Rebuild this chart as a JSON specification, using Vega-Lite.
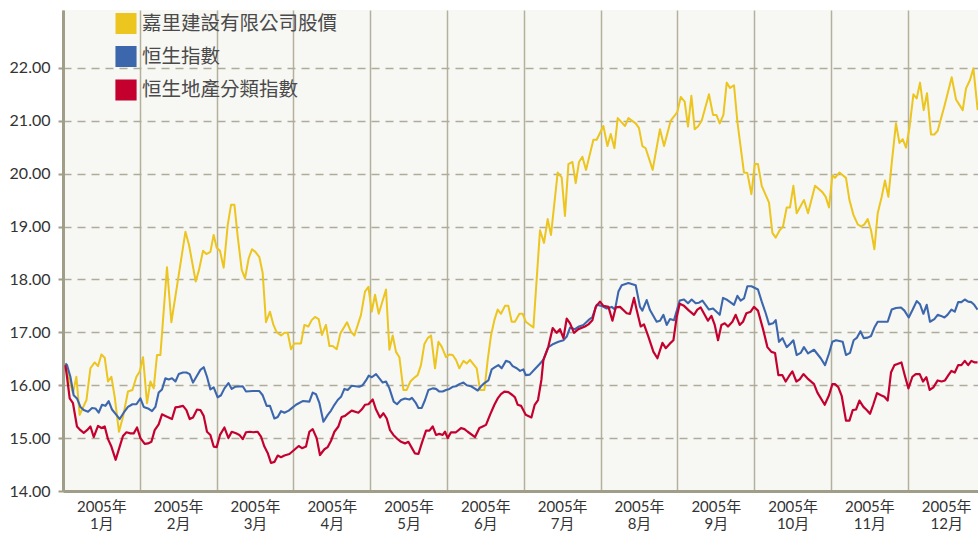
{
  "$schema": "https://vega.github.io/schema/vega-lite/v6.json",
  "width": 915,
  "height": 481,
  "autosize": {"type": "none"},
  "padding": {"left": 63, "top": 10, "right": 0, "bottom": 44},
  "background": "#ffffff",
  "view": {"fill": "#f7f7f4", "stroke": null},
  "config": {
    "font": "Lato, 'Noto Sans CJK TC'",
    "legend": {
      "orient": "none", "legendX": 52, "legendY": 3, "title": null,
      "symbolType": "square", "symbolSize": 361, "symbolStrokeWidth": 0,
      "labelFontSize": 19.5, "labelFont": "Noto Sans CJK TC", "labelColor": "#4a4a4a",
      "rowPadding": 5.5, "labelOffset": 5, "labelLimit": 400
    }
  },
  "data": {"values": [
    {"s":"嘉里建設有限公司股價","m":0.031,"v":16.38},{"s":"嘉里建設有限公司股價","m":0.130,"v":15.85},{"s":"嘉里建設有限公司股價","m":0.174,"v":16.16},{"s":"嘉里建設有限公司股價","m":0.217,"v":15.44},{"s":"嘉里建設有限公司股價","m":0.305,"v":15.72},{"s":"嘉里建設有限公司股價","m":0.357,"v":16.32},{"s":"嘉里建設有限公司股價","m":0.413,"v":16.43},{"s":"嘉里建設有限公司股價","m":0.456,"v":16.36},{"s":"嘉里建設有限公司股價","m":0.500,"v":16.58},{"s":"嘉里建設有限公司股價","m":0.543,"v":16.52},{"s":"嘉里建設有限公司股價","m":0.586,"v":16.07},{"s":"嘉里建設有限公司股價","m":0.630,"v":16.16},{"s":"嘉里建設有限公司股價","m":0.673,"v":15.78},{"s":"嘉里建設有限公司股價","m":0.729,"v":15.12},{"s":"嘉里建設有限公司股價","m":0.781,"v":15.40},{"s":"嘉里建設有限公司股價","m":0.846,"v":15.88},{"s":"嘉里建設有限公司股價","m":0.904,"v":15.91},{"s":"嘉里建設有限公司股價","m":0.956,"v":16.16},{"s":"嘉里建設有限公司股價","m":0.999,"v":16.26},{"s":"嘉里建設有限公司股價","m":1.042,"v":16.53},{"s":"嘉里建設有限公司股價","m":1.094,"v":15.66},{"s":"嘉里建設有限公司股價","m":1.138,"v":16.07},{"s":"嘉里建設有限公司股價","m":1.181,"v":15.94},{"s":"嘉里建設有限公司股價","m":1.224,"v":16.57},{"s":"嘉里建設有限公司股價","m":1.268,"v":16.57},{"s":"嘉里建設有限公司股價","m":1.354,"v":18.23},{"s":"嘉里建設有限公司股價","m":1.411,"v":17.19},{"s":"嘉里建設有限公司股價","m":1.497,"v":17.99},{"s":"嘉里建設有限公司股價","m":1.594,"v":18.90},{"s":"嘉里建設有限公司股價","m":1.641,"v":18.65},{"s":"嘉里建設有限公司股價","m":1.728,"v":17.96},{"s":"嘉里建設有限公司股價","m":1.771,"v":18.18},{"s":"嘉里建設有限公司股價","m":1.823,"v":18.54},{"s":"嘉里建設有限公司股價","m":1.867,"v":18.48},{"s":"嘉里建設有限公司股價","m":1.919,"v":18.52},{"s":"嘉里建設有限公司股價","m":1.962,"v":18.84},{"s":"嘉里建設有限公司股價","m":2.001,"v":18.60},{"s":"嘉里建設有限公司股價","m":2.044,"v":18.54},{"s":"嘉里建設有限公司股價","m":2.092,"v":18.22},{"s":"嘉里建設有限公司股價","m":2.145,"v":19.03},{"s":"嘉里建設有限公司股價","m":2.188,"v":19.41},{"s":"嘉里建設有限公司股價","m":2.232,"v":19.41},{"s":"嘉里建設有限公司股價","m":2.275,"v":18.81},{"s":"嘉里建設有限公司股價","m":2.327,"v":18.18},{"s":"嘉里建設有限公司股價","m":2.370,"v":18.02},{"s":"嘉里建設有限公司股價","m":2.418,"v":18.40},{"s":"嘉里建設有限公司股價","m":2.461,"v":18.57},{"s":"嘉里建設有限公司股價","m":2.505,"v":18.52},{"s":"嘉里建設有限公司股價","m":2.557,"v":18.42},{"s":"嘉里建設有限公司股價","m":2.600,"v":18.12},{"s":"嘉里建設有限公司股價","m":2.643,"v":17.19},{"s":"嘉里建設有限公司股價","m":2.695,"v":17.39},{"s":"嘉里建設有限公司股價","m":2.740,"v":17.14},{"s":"嘉里建設有限公司股價","m":2.783,"v":17.00},{"s":"嘉里建設有限公司股價","m":2.839,"v":16.94},{"s":"嘉里建設有限公司股價","m":2.883,"v":16.99},{"s":"嘉里建設有限公司股價","m":2.926,"v":16.99},{"s":"嘉里建設有限公司股價","m":2.969,"v":16.68},{"s":"嘉里建設有限公司股價","m":3.013,"v":16.79},{"s":"嘉里建設有限公司股價","m":3.099,"v":16.79},{"s":"嘉里建設有限公司股價","m":3.143,"v":17.14},{"s":"嘉里建設有限公司股價","m":3.195,"v":17.11},{"s":"嘉里建設有限公司股價","m":3.238,"v":17.23},{"s":"嘉里建設有限公司股價","m":3.281,"v":17.29},{"s":"嘉里建設有限公司股價","m":3.329,"v":17.25},{"s":"嘉里建設有限公司股價","m":3.372,"v":16.95},{"s":"嘉里建設有限公司股價","m":3.424,"v":17.14},{"s":"嘉里建設有限公司股價","m":3.469,"v":16.74},{"s":"嘉里建設有限公司股價","m":3.512,"v":16.74},{"s":"嘉里建設有限公司股價","m":3.564,"v":16.68},{"s":"嘉里建設有限公司股價","m":3.612,"v":16.98},{"s":"嘉里建設有限公司股價","m":3.698,"v":17.19},{"s":"嘉里建設有限公司股價","m":3.750,"v":17.01},{"s":"嘉里建設有限公司股價","m":3.794,"v":16.94},{"s":"嘉里建設有限公司股價","m":3.880,"v":17.33},{"s":"嘉里建設有限公司股價","m":3.932,"v":17.77},{"s":"嘉里建設有限公司股價","m":3.977,"v":17.86},{"s":"嘉里建設有限公司股價","m":4.020,"v":17.39},{"s":"嘉里建設有限公司股價","m":4.063,"v":17.71},{"s":"嘉里建設有限公司股價","m":4.111,"v":17.35},{"s":"嘉里建設有限公司股價","m":4.206,"v":17.81},{"s":"嘉里建設有限公司股價","m":4.250,"v":16.67},{"s":"嘉里建設有限公司股價","m":4.293,"v":16.94},{"s":"嘉里建設有限公司股價","m":4.336,"v":16.63},{"s":"嘉里建設有限公司股價","m":4.380,"v":16.53},{"s":"嘉里建設有限公司股價","m":4.432,"v":15.91},{"s":"嘉里建設有限公司股價","m":4.475,"v":15.91},{"s":"嘉里建設有限公司股價","m":4.523,"v":16.07},{"s":"嘉里建設有限公司股價","m":4.566,"v":16.13},{"s":"嘉里建設有限公司股價","m":4.618,"v":16.19},{"s":"嘉里建設有限公司股價","m":4.661,"v":16.38},{"s":"嘉里建設有限公司股價","m":4.706,"v":16.78},{"s":"嘉里建設有限公司股價","m":4.749,"v":16.89},{"s":"嘉里建設有限公司股價","m":4.792,"v":16.94},{"s":"嘉里建設有限公司股價","m":4.844,"v":16.32},{"s":"嘉里建設有限公司股價","m":4.888,"v":16.82},{"s":"嘉里建設有限公司股價","m":4.931,"v":16.73},{"s":"嘉里建設有限公司股價","m":4.987,"v":16.53},{"s":"嘉里建設有限公司股價","m":5.031,"v":16.58},{"s":"嘉里建設有限公司股價","m":5.074,"v":16.57},{"s":"嘉里建設有限公司股價","m":5.117,"v":16.48},{"s":"嘉里建設有限公司股價","m":5.161,"v":16.32},{"s":"嘉里建設有限公司股價","m":5.214,"v":16.46},{"s":"嘉里建設有限公司股價","m":5.257,"v":16.41},{"s":"嘉里建設有限公司股價","m":5.299,"v":16.48},{"s":"嘉里建設有限公司股價","m":5.387,"v":16.32},{"s":"嘉里建設有限公司股價","m":5.430,"v":15.91},{"s":"嘉里建設有限公司股價","m":5.487,"v":15.91},{"s":"嘉里建設有限公司股價","m":5.530,"v":16.48},{"s":"嘉里建設有限公司股價","m":5.573,"v":16.94},{"s":"嘉里建設有限公司股價","m":5.617,"v":17.23},{"s":"嘉里建設有限公司股價","m":5.660,"v":17.43},{"s":"嘉里建設有限公司股價","m":5.703,"v":17.35},{"s":"嘉里建設有限公司股價","m":5.755,"v":17.50},{"s":"嘉里建設有限公司股價","m":5.799,"v":17.50},{"s":"嘉里建設有限公司股價","m":5.842,"v":17.20},{"s":"嘉里建設有限公司股價","m":5.885,"v":17.20},{"s":"嘉里建設有限公司股價","m":5.943,"v":17.35},{"s":"嘉里建設有限公司股價","m":5.986,"v":17.35},{"s":"嘉里建設有限公司股價","m":6.025,"v":17.20},{"s":"嘉里建設有限公司股價","m":6.125,"v":17.09},{"s":"嘉里建設有限公司股價","m":6.211,"v":18.93},{"s":"嘉里建設有限公司股價","m":6.263,"v":18.69},{"s":"嘉里建設有限公司股價","m":6.311,"v":19.14},{"s":"嘉里建設有限公司股價","m":6.354,"v":18.84},{"s":"嘉里建設有限公司股價","m":6.441,"v":20.02},{"s":"嘉里建設有限公司股價","m":6.493,"v":19.93},{"s":"嘉里建設有限公司股價","m":6.536,"v":19.20},{"s":"嘉里建設有限公司股價","m":6.581,"v":20.18},{"s":"嘉里建設有限公司股價","m":6.633,"v":20.22},{"s":"嘉里建設有限公司股價","m":6.676,"v":19.82},{"s":"嘉里建設有限公司股價","m":6.719,"v":20.22},{"s":"嘉里建設有限公司股價","m":6.763,"v":20.32},{"s":"嘉里建設有限公司股價","m":6.810,"v":20.07},{"s":"嘉里建設有限公司股價","m":6.906,"v":20.64},{"s":"嘉里建設有限公司股價","m":6.949,"v":20.64},{"s":"嘉里建設有限公司股價","m":7.036,"v":20.90},{"s":"嘉里建設有限公司股價","m":7.089,"v":20.52},{"s":"嘉里建設有限公司股價","m":7.132,"v":20.75},{"s":"嘉里建設有限公司股價","m":7.180,"v":20.48},{"s":"嘉里建設有限公司股價","m":7.223,"v":21.05},{"s":"嘉里建設有限公司股價","m":7.318,"v":20.90},{"s":"嘉里建設有限公司股價","m":7.362,"v":21.05},{"s":"嘉里建設有限公司股價","m":7.457,"v":20.95},{"s":"嘉里建設有限公司股價","m":7.500,"v":20.86},{"s":"嘉里建設有限公司股價","m":7.544,"v":20.52},{"s":"嘉里建設有限公司股價","m":7.587,"v":20.48},{"s":"嘉里建設有限公司股價","m":7.678,"v":20.07},{"s":"嘉里建設有限公司股價","m":7.773,"v":20.84},{"s":"嘉里建設有限公司股價","m":7.826,"v":20.52},{"s":"嘉里建設有限公司股價","m":7.913,"v":21.00},{"s":"嘉里建設有限公司股價","m":7.961,"v":21.09},{"s":"嘉里建設有限公司股價","m":8.000,"v":21.17},{"s":"嘉里建設有限公司股價","m":8.043,"v":21.45},{"s":"嘉里建設有限公司股價","m":8.095,"v":21.36},{"s":"嘉里建設有限公司股價","m":8.138,"v":20.89},{"s":"嘉里建設有限公司股價","m":8.182,"v":21.47},{"s":"嘉里建設有限公司股價","m":8.225,"v":20.84},{"s":"嘉里建設有限公司股價","m":8.268,"v":20.89},{"s":"嘉里建設有限公司股價","m":8.316,"v":21.00},{"s":"嘉里建設有限公司股價","m":8.411,"v":21.50},{"s":"嘉里建設有限公司股價","m":8.464,"v":21.11},{"s":"嘉里建設有限公司股價","m":8.508,"v":21.11},{"s":"嘉里建設有限公司股價","m":8.551,"v":20.95},{"s":"嘉里建設有限公司股價","m":8.599,"v":21.11},{"s":"嘉里建設有限公司股價","m":8.642,"v":21.72},{"s":"嘉里建設有限公司股價","m":8.685,"v":21.62},{"s":"嘉里建設有限公司股價","m":8.737,"v":21.67},{"s":"嘉里建設有限公司股價","m":8.781,"v":20.98},{"s":"嘉里建設有限公司股價","m":8.867,"v":20.02},{"s":"嘉里建設有限公司股價","m":8.911,"v":20.01},{"s":"嘉里建設有限公司股價","m":8.964,"v":19.61},{"s":"嘉里建設有限公司股價","m":9.007,"v":20.18},{"s":"嘉里建設有限公司股價","m":9.049,"v":20.18},{"s":"嘉里建設有限公司股價","m":9.098,"v":19.77},{"s":"嘉里建設有限公司股價","m":9.193,"v":19.45},{"s":"嘉里建設有限公司股價","m":9.237,"v":18.88},{"s":"嘉里建設有限公司股價","m":9.280,"v":18.79},{"s":"嘉里建設有限公司股價","m":9.332,"v":18.93},{"s":"嘉里建設有限公司股價","m":9.375,"v":19.00},{"s":"嘉里建設有限公司股價","m":9.423,"v":19.36},{"s":"嘉里建設有限公司股價","m":9.466,"v":19.36},{"s":"嘉里建設有限公司股價","m":9.510,"v":19.77},{"s":"嘉里建設有限公司股價","m":9.553,"v":19.25},{"s":"嘉里建設有限公司股價","m":9.648,"v":19.50},{"s":"嘉里建設有限公司股價","m":9.701,"v":19.25},{"s":"嘉里建設有限公司股價","m":9.792,"v":19.77},{"s":"嘉里建設有限公司股價","m":9.888,"v":19.65},{"s":"嘉里建設有限公司股價","m":9.931,"v":19.56},{"s":"嘉里建設有限公司股價","m":9.974,"v":19.36},{"s":"嘉里建設有限公司股價","m":10.018,"v":19.97},{"s":"嘉里建設有限公司股價","m":10.052,"v":19.92},{"s":"嘉里建設有限公司股價","m":10.109,"v":20.02},{"s":"嘉里建設有限公司股價","m":10.195,"v":19.92},{"s":"嘉里建設有限公司股價","m":10.240,"v":19.50},{"s":"嘉里建設有限公司股價","m":10.292,"v":19.22},{"s":"嘉里建設有限公司股價","m":10.348,"v":19.04},{"s":"嘉里建設有限公司股價","m":10.391,"v":19.00},{"s":"嘉里建設有限公司股價","m":10.435,"v":19.04},{"s":"嘉里建設有限公司股價","m":10.478,"v":19.14},{"s":"嘉里建設有限公司股價","m":10.521,"v":18.93},{"s":"嘉里建設有限公司股價","m":10.565,"v":18.57},{"s":"嘉里建設有限公司股價","m":10.608,"v":19.25},{"s":"嘉里建設有限公司股價","m":10.660,"v":19.56},{"s":"嘉里建設有限公司股價","m":10.703,"v":19.87},{"s":"嘉里建設有限公司股價","m":10.747,"v":19.56},{"s":"嘉里建設有限公司股價","m":10.790,"v":20.19},{"s":"嘉里建設有限公司股價","m":10.846,"v":20.95},{"s":"嘉里建設有限公司股價","m":10.891,"v":20.58},{"s":"嘉里建設有限公司股價","m":10.934,"v":20.65},{"s":"嘉里建設有限公司股價","m":10.977,"v":20.49},{"s":"嘉里建設有限公司股價","m":11.021,"v":20.86},{"s":"嘉里建設有限公司股價","m":11.073,"v":21.50},{"s":"嘉里建設有限公司股價","m":11.116,"v":21.42},{"s":"嘉里建設有限公司股價","m":11.159,"v":21.72},{"s":"嘉里建設有限公司股價","m":11.207,"v":21.20},{"s":"嘉里建設有限公司股價","m":11.250,"v":21.52},{"s":"嘉里建設有限公司股價","m":11.302,"v":20.74},{"s":"嘉里建設有限公司股價","m":11.346,"v":20.74},{"s":"嘉里建設有限公司股價","m":11.389,"v":20.81},{"s":"嘉里建設有限公司股價","m":11.477,"v":21.28},{"s":"嘉里建設有限公司股價","m":11.572,"v":21.82},{"s":"嘉里建設有限公司股價","m":11.628,"v":21.40},{"s":"嘉里建設有限公司股價","m":11.672,"v":21.30},{"s":"嘉里建設有限公司股價","m":11.715,"v":21.20},{"s":"嘉里建設有限公司股價","m":11.758,"v":21.61},{"s":"嘉里建設有限公司股價","m":11.810,"v":21.77},{"s":"嘉里建設有限公司股價","m":11.854,"v":21.99},{"s":"嘉里建設有限公司股價","m":11.910,"v":21.20},

    {"s":"恒生指數","m":0.031,"v":16.41},{"s":"恒生指數","m":0.052,"v":16.38},{"s":"恒生指數","m":0.096,"v":16.16},{"s":"恒生指數","m":0.139,"v":15.81},{"s":"恒生指數","m":0.182,"v":15.75},{"s":"恒生指數","m":0.227,"v":15.59},{"s":"恒生指數","m":0.270,"v":15.53},{"s":"恒生指數","m":0.326,"v":15.50},{"s":"恒生指數","m":0.378,"v":15.57},{"s":"恒生指數","m":0.422,"v":15.56},{"s":"恒生指數","m":0.465,"v":15.48},{"s":"恒生指數","m":0.508,"v":15.63},{"s":"恒生指數","m":0.552,"v":15.61},{"s":"恒生指數","m":0.595,"v":15.70},{"s":"恒生指數","m":0.638,"v":15.54},{"s":"恒生指數","m":0.695,"v":15.44},{"s":"恒生指數","m":0.738,"v":15.36},{"s":"恒生指數","m":0.790,"v":15.48},{"s":"恒生指數","m":0.846,"v":15.59},{"s":"恒生指數","m":0.904,"v":15.64},{"s":"恒生指數","m":0.956,"v":15.64},{"s":"恒生指數","m":1.008,"v":15.75},{"s":"恒生指數","m":1.051,"v":15.59},{"s":"恒生指數","m":1.107,"v":15.56},{"s":"恒生指數","m":1.159,"v":15.51},{"s":"恒生指數","m":1.203,"v":15.59},{"s":"恒生指數","m":1.246,"v":15.86},{"s":"恒生指數","m":1.289,"v":15.92},{"s":"恒生指數","m":1.333,"v":16.13},{"s":"恒生指數","m":1.376,"v":16.11},{"s":"恒生指數","m":1.419,"v":16.13},{"s":"恒生指數","m":1.464,"v":16.07},{"s":"恒生指數","m":1.507,"v":16.21},{"s":"恒生指數","m":1.563,"v":16.24},{"s":"恒生指數","m":1.607,"v":16.24},{"s":"恒生指數","m":1.650,"v":16.21},{"s":"恒生指數","m":1.693,"v":16.05},{"s":"恒生指數","m":1.737,"v":16.16},{"s":"恒生指數","m":1.789,"v":16.29},{"s":"恒生指數","m":1.832,"v":16.34},{"s":"恒生指數","m":1.875,"v":16.16},{"s":"恒生指數","m":1.919,"v":15.92},{"s":"恒生指數","m":1.962,"v":15.96},{"s":"恒生指數","m":2.014,"v":15.77},{"s":"恒生指數","m":2.057,"v":15.81},{"s":"恒生指數","m":2.102,"v":15.94},{"s":"恒生指數","m":2.154,"v":16.04},{"s":"恒生指數","m":2.197,"v":15.93},{"s":"恒生指數","m":2.240,"v":15.97},{"s":"恒生指數","m":2.340,"v":15.98},{"s":"恒生指數","m":2.383,"v":15.88},{"s":"恒生指數","m":2.470,"v":15.89},{"s":"恒生指數","m":2.557,"v":15.89},{"s":"恒生指數","m":2.600,"v":15.81},{"s":"恒生指數","m":2.652,"v":15.61},{"s":"恒生指數","m":2.695,"v":15.61},{"s":"恒生指數","m":2.753,"v":15.37},{"s":"恒生指數","m":2.796,"v":15.40},{"s":"恒生指數","m":2.839,"v":15.51},{"s":"恒生指數","m":2.883,"v":15.48},{"s":"恒生指數","m":2.939,"v":15.52},{"s":"恒生指數","m":2.991,"v":15.58},{"s":"恒生指數","m":3.034,"v":15.63},{"s":"恒生指數","m":3.121,"v":15.70},{"s":"恒生指數","m":3.208,"v":15.69},{"s":"恒生指數","m":3.251,"v":15.86},{"s":"恒生指數","m":3.294,"v":15.83},{"s":"恒生指數","m":3.339,"v":15.66},{"s":"恒生指數","m":3.391,"v":15.31},{"s":"恒生指數","m":3.447,"v":15.44},{"s":"恒生指數","m":3.490,"v":15.52},{"s":"恒生指數","m":3.534,"v":15.63},{"s":"恒生指數","m":3.577,"v":15.72},{"s":"恒生指數","m":3.620,"v":15.78},{"s":"恒生指數","m":3.664,"v":15.93},{"s":"恒生指數","m":3.707,"v":15.91},{"s":"恒生指數","m":3.759,"v":15.99},{"s":"恒生指數","m":3.859,"v":15.97},{"s":"恒生指數","m":3.902,"v":16.00},{"s":"恒生指數","m":3.945,"v":16.09},{"s":"恒生指數","m":3.980,"v":16.18},{"s":"恒生指數","m":4.020,"v":16.15},{"s":"恒生指數","m":4.076,"v":16.21},{"s":"恒生指數","m":4.163,"v":16.05},{"s":"恒生指數","m":4.206,"v":16.07},{"s":"恒生指數","m":4.250,"v":15.94},{"s":"恒生指數","m":4.306,"v":15.69},{"s":"恒生指數","m":4.349,"v":15.64},{"s":"恒生指數","m":4.401,"v":15.72},{"s":"恒生指數","m":4.453,"v":15.75},{"s":"恒生指數","m":4.510,"v":15.73},{"s":"恒生指數","m":4.544,"v":15.76},{"s":"恒生指數","m":4.596,"v":15.66},{"s":"恒生指數","m":4.628,"v":15.57},{"s":"恒生指數","m":4.671,"v":15.57},{"s":"恒生指數","m":4.714,"v":15.72},{"s":"恒生指數","m":4.758,"v":15.91},{"s":"恒生指數","m":4.814,"v":15.94},{"s":"恒生指數","m":4.857,"v":15.93},{"s":"恒生指數","m":4.901,"v":15.88},{"s":"恒生指數","m":4.944,"v":15.88},{"s":"恒生指數","m":4.987,"v":15.91},{"s":"恒生指數","m":5.031,"v":15.93},{"s":"恒生指數","m":5.074,"v":15.97},{"s":"恒生指數","m":5.117,"v":15.98},{"s":"恒生指數","m":5.161,"v":16.02},{"s":"恒生指數","m":5.214,"v":16.05},{"s":"恒生指數","m":5.257,"v":16.00},{"s":"恒生指數","m":5.313,"v":15.98},{"s":"恒生指數","m":5.357,"v":15.94},{"s":"恒生指數","m":5.400,"v":15.90},{"s":"恒生指數","m":5.443,"v":15.98},{"s":"恒生指數","m":5.487,"v":16.04},{"s":"恒生指數","m":5.539,"v":16.09},{"s":"恒生指數","m":5.582,"v":16.30},{"s":"恒生指數","m":5.625,"v":16.34},{"s":"恒生指數","m":5.669,"v":16.38},{"s":"恒生指數","m":5.712,"v":16.32},{"s":"恒生指數","m":5.768,"v":16.46},{"s":"恒生指數","m":5.813,"v":16.44},{"s":"恒生指數","m":5.855,"v":16.36},{"s":"恒生指數","m":5.908,"v":16.32},{"s":"恒生指數","m":5.951,"v":16.27},{"s":"恒生指數","m":5.995,"v":16.30},{"s":"恒生指數","m":6.025,"v":16.19},{"s":"恒生指數","m":6.077,"v":16.20},{"s":"恒生指數","m":6.142,"v":16.30},{"s":"恒生指數","m":6.207,"v":16.40},{"s":"恒生指數","m":6.255,"v":16.48},{"s":"恒生指數","m":6.320,"v":16.72},{"s":"恒生指數","m":6.385,"v":16.78},{"s":"恒生指數","m":6.451,"v":16.82},{"s":"恒生指數","m":6.516,"v":16.85},{"s":"恒生指數","m":6.559,"v":16.92},{"s":"恒生指數","m":6.602,"v":17.09},{"s":"恒生指數","m":6.667,"v":17.06},{"s":"恒生指數","m":6.719,"v":17.11},{"s":"恒生指數","m":6.776,"v":17.14},{"s":"恒生指數","m":6.841,"v":17.23},{"s":"恒生指數","m":6.893,"v":17.29},{"s":"恒生指數","m":6.949,"v":17.52},{"s":"恒生指數","m":7.014,"v":17.50},{"s":"恒生指數","m":7.079,"v":17.45},{"s":"恒生指數","m":7.145,"v":17.48},{"s":"恒生指數","m":7.188,"v":17.43},{"s":"恒生指數","m":7.232,"v":17.77},{"s":"恒生指數","m":7.275,"v":17.89},{"s":"恒生指數","m":7.362,"v":17.93},{"s":"恒生指數","m":7.457,"v":17.89},{"s":"恒生指數","m":7.513,"v":17.48},{"s":"恒生指數","m":7.544,"v":17.41},{"s":"恒生指數","m":7.600,"v":17.61},{"s":"恒生指數","m":7.643,"v":17.42},{"s":"恒生指數","m":7.730,"v":17.20},{"s":"恒生指數","m":7.773,"v":17.22},{"s":"恒生指數","m":7.818,"v":17.33},{"s":"恒生指數","m":7.861,"v":17.14},{"s":"恒生指數","m":7.904,"v":17.25},{"s":"恒生指數","m":7.956,"v":17.23},{"s":"恒生指數","m":8.000,"v":17.45},{"s":"恒生指數","m":8.030,"v":17.60},{"s":"恒生指數","m":8.086,"v":17.62},{"s":"恒生指數","m":8.138,"v":17.55},{"s":"恒生指數","m":8.186,"v":17.62},{"s":"恒生指數","m":8.238,"v":17.55},{"s":"恒生指數","m":8.281,"v":17.56},{"s":"恒生指數","m":8.326,"v":17.60},{"s":"恒生指數","m":8.411,"v":17.43},{"s":"恒生指數","m":8.464,"v":17.45},{"s":"恒生指數","m":8.551,"v":17.33},{"s":"恒生指數","m":8.594,"v":17.65},{"s":"恒生指數","m":8.651,"v":17.61},{"s":"恒生指數","m":8.737,"v":17.52},{"s":"恒生指數","m":8.781,"v":17.69},{"s":"恒生指數","m":8.824,"v":17.60},{"s":"恒生指數","m":8.867,"v":17.64},{"s":"恒生指數","m":8.911,"v":17.87},{"s":"恒生指數","m":8.964,"v":17.87},{"s":"恒生指數","m":9.049,"v":17.81},{"s":"恒生指數","m":9.098,"v":17.58},{"s":"恒生指數","m":9.150,"v":17.36},{"s":"恒生指數","m":9.193,"v":17.15},{"s":"恒生指數","m":9.245,"v":17.17},{"s":"恒生指數","m":9.280,"v":17.23},{"s":"恒生指數","m":9.323,"v":16.82},{"s":"恒生指數","m":9.368,"v":16.89},{"s":"恒生指數","m":9.423,"v":16.72},{"s":"恒生指數","m":9.466,"v":16.78},{"s":"恒生指數","m":9.510,"v":16.85},{"s":"恒生指數","m":9.553,"v":16.57},{"s":"恒生指數","m":9.605,"v":16.61},{"s":"恒生指數","m":9.648,"v":16.72},{"s":"恒生指數","m":9.701,"v":16.60},{"s":"恒生指數","m":9.779,"v":16.67},{"s":"恒生指數","m":9.866,"v":16.51},{"s":"恒生指數","m":9.922,"v":16.38},{"s":"恒生指數","m":9.974,"v":16.60},{"s":"恒生指數","m":10.018,"v":16.82},{"s":"恒生指數","m":10.065,"v":16.85},{"s":"恒生指數","m":10.152,"v":16.82},{"s":"恒生指數","m":10.195,"v":16.57},{"s":"恒生指數","m":10.247,"v":16.61},{"s":"恒生指數","m":10.295,"v":16.85},{"s":"恒生指數","m":10.339,"v":16.90},{"s":"恒生指數","m":10.383,"v":17.02},{"s":"恒生指數","m":10.426,"v":16.89},{"s":"恒生指數","m":10.478,"v":16.90},{"s":"恒生指數","m":10.521,"v":16.93},{"s":"恒生指數","m":10.565,"v":17.09},{"s":"恒生指數","m":10.608,"v":17.20},{"s":"恒生指數","m":10.738,"v":17.20},{"s":"恒生指數","m":10.790,"v":17.43},{"s":"恒生指數","m":10.846,"v":17.46},{"s":"恒生指數","m":10.911,"v":17.47},{"s":"恒生指數","m":10.956,"v":17.41},{"s":"恒生指數","m":11.012,"v":17.28},{"s":"恒生指數","m":11.064,"v":17.43},{"s":"恒生指數","m":11.116,"v":17.59},{"s":"恒生指數","m":11.159,"v":17.53},{"s":"恒生指數","m":11.203,"v":17.35},{"s":"恒生指數","m":11.246,"v":17.52},{"s":"恒生指數","m":11.289,"v":17.20},{"s":"恒生指數","m":11.346,"v":17.25},{"s":"恒生指數","m":11.389,"v":17.33},{"s":"恒生指數","m":11.432,"v":17.31},{"s":"恒生指數","m":11.477,"v":17.28},{"s":"恒生指數","m":11.516,"v":17.33},{"s":"恒生指數","m":11.568,"v":17.43},{"s":"恒生指數","m":11.612,"v":17.39},{"s":"恒生指數","m":11.656,"v":17.57},{"s":"恒生指數","m":11.698,"v":17.57},{"s":"恒生指數","m":11.742,"v":17.62},{"s":"恒生指數","m":11.786,"v":17.58},{"s":"恒生指數","m":11.828,"v":17.57},{"s":"恒生指數","m":11.865,"v":17.52},{"s":"恒生指數","m":11.908,"v":17.43},

    {"s":"恒生地產分類指數","m":0.031,"v":16.38},{"s":"恒生地產分類指數","m":0.052,"v":16.16},{"s":"恒生地產分類指數","m":0.087,"v":15.75},{"s":"恒生地產分類指數","m":0.130,"v":15.66},{"s":"恒生地產分類指數","m":0.182,"v":15.22},{"s":"恒生地產分類指數","m":0.227,"v":15.15},{"s":"恒生地產分類指數","m":0.270,"v":15.10},{"s":"恒生地產分類指數","m":0.313,"v":15.15},{"s":"恒生地產分類指數","m":0.357,"v":15.22},{"s":"恒生地產分類指數","m":0.400,"v":15.02},{"s":"恒生地產分類指數","m":0.456,"v":15.23},{"s":"恒生地產分類指數","m":0.500,"v":15.19},{"s":"恒生地產分類指數","m":0.543,"v":15.22},{"s":"恒生地產分類指數","m":0.586,"v":14.98},{"s":"恒生地產分類指數","m":0.630,"v":14.84},{"s":"恒生地產分類指數","m":0.686,"v":14.59},{"s":"恒生地產分類指數","m":0.738,"v":14.84},{"s":"恒生地產分類指數","m":0.781,"v":15.04},{"s":"恒生地產分類指數","m":0.826,"v":15.11},{"s":"恒生地產分類指數","m":0.878,"v":15.09},{"s":"恒生地產分類指數","m":0.921,"v":15.09},{"s":"恒生地產分類指數","m":0.964,"v":15.20},{"s":"恒生地產分類指數","m":1.008,"v":15.00},{"s":"恒生地產分類指數","m":1.064,"v":14.89},{"s":"恒生地產分類指數","m":1.107,"v":14.90},{"s":"恒生地產分類指數","m":1.151,"v":14.93},{"s":"恒生地產分類指數","m":1.194,"v":15.15},{"s":"恒生地產分類指數","m":1.246,"v":15.26},{"s":"恒生地產分類指數","m":1.289,"v":15.45},{"s":"恒生地產分類指數","m":1.333,"v":15.42},{"s":"恒生地產分類指數","m":1.419,"v":15.36},{"s":"恒生地產分類指數","m":1.464,"v":15.58},{"s":"恒生地產分類指數","m":1.507,"v":15.59},{"s":"恒生地產分類指數","m":1.563,"v":15.61},{"s":"恒生地產分類指數","m":1.607,"v":15.53},{"s":"恒生地產分類指數","m":1.650,"v":15.36},{"s":"恒生地產分類指數","m":1.693,"v":15.39},{"s":"恒生地產分類指數","m":1.745,"v":15.54},{"s":"恒生地產分類指數","m":1.789,"v":15.53},{"s":"恒生地產分類指數","m":1.832,"v":15.42},{"s":"恒生地產分類指數","m":1.875,"v":15.12},{"s":"恒生地產分類指數","m":1.919,"v":15.06},{"s":"恒生地產分類指數","m":1.962,"v":14.84},{"s":"恒生地產分類指數","m":2.001,"v":14.83},{"s":"恒生地產分類指數","m":2.044,"v":15.06},{"s":"恒生地產分類指數","m":2.102,"v":15.20},{"s":"恒生地產分類指數","m":2.154,"v":15.00},{"s":"恒生地產分類指數","m":2.197,"v":15.12},{"s":"恒生地產分類指數","m":2.253,"v":15.09},{"s":"恒生地產分類指數","m":2.297,"v":15.06},{"s":"恒生地產分類指數","m":2.340,"v":14.98},{"s":"恒生地產分類指數","m":2.383,"v":15.11},{"s":"恒生地產分類指數","m":2.435,"v":15.12},{"s":"恒生地產分類指數","m":2.479,"v":15.11},{"s":"恒生地產分類指數","m":2.535,"v":15.12},{"s":"恒生地產分類指數","m":2.578,"v":15.03},{"s":"恒生地產分類指數","m":2.622,"v":14.84},{"s":"恒生地產分類指數","m":2.665,"v":14.72},{"s":"恒生地產分類指數","m":2.708,"v":14.53},{"s":"恒生地產分類指數","m":2.753,"v":14.55},{"s":"恒生地產分類指數","m":2.796,"v":14.67},{"s":"恒生地產分類指數","m":2.839,"v":14.64},{"s":"恒生地產分類指數","m":2.883,"v":14.67},{"s":"恒生地產分類指數","m":2.948,"v":14.70},{"s":"恒生地產分類指數","m":3.013,"v":14.78},{"s":"恒生地產分類指數","m":3.069,"v":14.85},{"s":"恒生地產分類指數","m":3.112,"v":14.81},{"s":"恒生地產分類指數","m":3.164,"v":14.84},{"s":"恒生地產分類指數","m":3.208,"v":15.12},{"s":"恒生地產分類指數","m":3.251,"v":15.17},{"s":"恒生地產分類指數","m":3.303,"v":15.00},{"s":"恒生地產分類指數","m":3.346,"v":14.68},{"s":"恒生地產分類指數","m":3.404,"v":14.79},{"s":"恒生地產分類指數","m":3.447,"v":14.83},{"s":"恒生地產分類指數","m":3.490,"v":14.95},{"s":"恒生地產分類指數","m":3.534,"v":15.12},{"s":"恒生地產分類指數","m":3.586,"v":15.22},{"s":"恒生地產分類指數","m":3.629,"v":15.40},{"s":"恒生地產分類指數","m":3.672,"v":15.42},{"s":"恒生地產分類指數","m":3.716,"v":15.47},{"s":"恒生地產分類指數","m":3.759,"v":15.52},{"s":"恒生地產分類指數","m":3.846,"v":15.48},{"s":"恒生地產分類指數","m":3.889,"v":15.54},{"s":"恒生地產分類指數","m":3.932,"v":15.63},{"s":"恒生地產分類指數","m":3.977,"v":15.64},{"s":"恒生地產分類指數","m":4.033,"v":15.73},{"s":"恒生地產分類指數","m":4.076,"v":15.54},{"s":"恒生地產分類指數","m":4.128,"v":15.39},{"s":"恒生地產分類指數","m":4.172,"v":15.47},{"s":"恒生地產分類指數","m":4.215,"v":15.37},{"s":"恒生地產分類指數","m":4.258,"v":15.15},{"s":"恒生地產分類指數","m":4.302,"v":15.06},{"s":"恒生地產分類指數","m":4.358,"v":14.98},{"s":"恒生地產分類指數","m":4.401,"v":14.93},{"s":"恒生地產分類指數","m":4.453,"v":14.90},{"s":"恒生地產分類指數","m":4.497,"v":14.93},{"s":"恒生地產分類指數","m":4.540,"v":14.82},{"s":"恒生地產分類指數","m":4.583,"v":14.71},{"s":"恒生地產分類指數","m":4.628,"v":14.70},{"s":"恒生地產分類指數","m":4.671,"v":14.90},{"s":"恒生地產分類指數","m":4.727,"v":15.14},{"s":"恒生地產分類指數","m":4.771,"v":15.14},{"s":"恒生地產分類指數","m":4.814,"v":15.22},{"s":"恒生地產分類指數","m":4.857,"v":15.06},{"s":"恒生地產分類指數","m":4.901,"v":15.08},{"s":"恒生地產分類指數","m":4.944,"v":15.06},{"s":"恒生地產分類指數","m":4.974,"v":15.12},{"s":"恒生地產分類指數","m":5.009,"v":15.00},{"s":"恒生地產分類指數","m":5.052,"v":15.11},{"s":"恒生地產分類指數","m":5.117,"v":15.11},{"s":"恒生地產分類指數","m":5.182,"v":15.19},{"s":"恒生地產分類指數","m":5.227,"v":15.17},{"s":"恒生地產分類指數","m":5.270,"v":15.12},{"s":"恒生地產分類指數","m":5.365,"v":15.02},{"s":"恒生地產分類指數","m":5.422,"v":15.19},{"s":"恒生地產分類指數","m":5.465,"v":15.22},{"s":"恒生地產分類指數","m":5.508,"v":15.25},{"s":"恒生地產分類指數","m":5.560,"v":15.44},{"s":"恒生地產分類指數","m":5.617,"v":15.63},{"s":"恒生地產分類指數","m":5.660,"v":15.75},{"s":"恒生地產分類指數","m":5.703,"v":15.83},{"s":"恒生地產分類指數","m":5.747,"v":15.88},{"s":"恒生地產分類指數","m":5.799,"v":15.87},{"s":"恒生地產分類指數","m":5.855,"v":15.81},{"s":"恒生地產分類指數","m":5.885,"v":15.77},{"s":"恒生地產分類指數","m":5.921,"v":15.63},{"s":"恒生地產分類指數","m":5.964,"v":15.61},{"s":"恒生地產分類指數","m":6.025,"v":15.44},{"s":"恒生地產分類指數","m":6.099,"v":15.39},{"s":"恒生地產分類指數","m":6.142,"v":15.63},{"s":"恒生地產分類指數","m":6.185,"v":15.72},{"s":"恒生地產分類指數","m":6.229,"v":16.10},{"s":"恒生地產分類指數","m":6.255,"v":16.48},{"s":"恒生地產分類指數","m":6.320,"v":16.73},{"s":"恒生地產分類指數","m":6.376,"v":17.08},{"s":"恒生地產分類指數","m":6.428,"v":16.99},{"s":"恒生地產分類指數","m":6.471,"v":17.06},{"s":"恒生地產分類指數","m":6.516,"v":16.89},{"s":"恒生地產分類指數","m":6.559,"v":17.26},{"s":"恒生地產分類指數","m":6.602,"v":17.17},{"s":"恒生地產分類指數","m":6.654,"v":16.99},{"s":"恒生地產分類指數","m":6.711,"v":17.06},{"s":"恒生地產分類指數","m":6.797,"v":17.11},{"s":"恒生地產分類指數","m":6.841,"v":17.15},{"s":"恒生地產分類指數","m":6.893,"v":17.23},{"s":"恒生地產分類指數","m":6.936,"v":17.48},{"s":"恒生地產分類指數","m":6.992,"v":17.58},{"s":"恒生地產分類指數","m":7.036,"v":17.50},{"s":"恒生地產分類指數","m":7.102,"v":17.48},{"s":"恒生地產分類指數","m":7.154,"v":17.22},{"s":"恒生地產分類指數","m":7.197,"v":17.47},{"s":"恒生地產分類指數","m":7.253,"v":17.48},{"s":"恒生地產分類指數","m":7.340,"v":17.36},{"s":"恒生地產分類指數","m":7.383,"v":17.35},{"s":"恒生地產分類指數","m":7.435,"v":17.65},{"s":"恒生地產分類指數","m":7.470,"v":17.42},{"s":"恒生地產分類指數","m":7.522,"v":17.11},{"s":"恒生地產分類指數","m":7.565,"v":17.15},{"s":"恒生地產分類指數","m":7.622,"v":16.92},{"s":"恒生地產分類指數","m":7.688,"v":16.63},{"s":"恒生地產分類指數","m":7.740,"v":16.51},{"s":"恒生地產分類指數","m":7.805,"v":16.80},{"s":"恒生地產分類指數","m":7.848,"v":16.70},{"s":"恒生地產分類指數","m":7.904,"v":16.79},{"s":"恒生地產分類指數","m":7.948,"v":16.85},{"s":"恒生地產分類指數","m":7.991,"v":17.29},{"s":"恒生地產分類指數","m":8.030,"v":17.54},{"s":"恒生地產分類指數","m":8.086,"v":17.50},{"s":"恒生地產分類指數","m":8.151,"v":17.41},{"s":"恒生地產分類指數","m":8.216,"v":17.33},{"s":"恒生地產分類指數","m":8.260,"v":17.43},{"s":"恒生地產分類指數","m":8.303,"v":17.47},{"s":"恒生地產分類指數","m":8.355,"v":17.33},{"s":"恒生地產分類指數","m":8.398,"v":17.22},{"s":"恒生地產分類指數","m":8.443,"v":17.31},{"s":"恒生地產分類指數","m":8.486,"v":17.14},{"s":"恒生地產分類指數","m":8.529,"v":16.85},{"s":"恒生地產分類指數","m":8.573,"v":17.14},{"s":"恒生地產分類指數","m":8.616,"v":17.17},{"s":"恒生地產分類指數","m":8.659,"v":17.11},{"s":"恒生地產分類指數","m":8.716,"v":17.20},{"s":"恒生地產分類指數","m":8.759,"v":17.33},{"s":"恒生地產分類指數","m":8.811,"v":17.14},{"s":"恒生地產分類指數","m":8.854,"v":17.20},{"s":"恒生地產分類指數","m":8.898,"v":17.36},{"s":"恒生地產分類指數","m":8.954,"v":17.39},{"s":"恒生地產分類指數","m":8.997,"v":17.48},{"s":"恒生地產分類指數","m":9.049,"v":17.41},{"s":"恒生地產分類指數","m":9.115,"v":17.06},{"s":"恒生地產分類指數","m":9.172,"v":16.72},{"s":"恒生地產分類指數","m":9.224,"v":16.63},{"s":"恒生地產分類指數","m":9.271,"v":16.61},{"s":"恒生地產分類指數","m":9.315,"v":16.19},{"s":"恒生地產分類指數","m":9.367,"v":16.19},{"s":"恒生地產分類指數","m":9.410,"v":16.07},{"s":"恒生地產分類指數","m":9.453,"v":16.17},{"s":"恒生地產分類指數","m":9.497,"v":16.26},{"s":"恒生地產分類指數","m":9.549,"v":16.07},{"s":"恒生地產分類指數","m":9.592,"v":16.11},{"s":"恒生地產分類指數","m":9.641,"v":16.21},{"s":"恒生地產分類指數","m":9.693,"v":16.13},{"s":"恒生地產分類指數","m":9.779,"v":16.02},{"s":"恒生地產分類指數","m":9.823,"v":15.86},{"s":"恒生地產分類指數","m":9.918,"v":15.63},{"s":"恒生地產分類指數","m":9.974,"v":15.81},{"s":"恒生地產分類指數","m":10.018,"v":16.02},{"s":"恒生地產分類指數","m":10.052,"v":16.02},{"s":"恒生地產分類指數","m":10.096,"v":15.96},{"s":"恒生地產分類指數","m":10.139,"v":15.80},{"s":"恒生地產分類指數","m":10.195,"v":15.33},{"s":"恒生地產分類指數","m":10.240,"v":15.33},{"s":"恒生地產分類指數","m":10.283,"v":15.53},{"s":"恒生地產分類指數","m":10.326,"v":15.54},{"s":"恒生地產分類指數","m":10.370,"v":15.71},{"s":"恒生地產分類指數","m":10.422,"v":15.59},{"s":"恒生地產分類指數","m":10.465,"v":15.53},{"s":"恒生地產分類指數","m":10.508,"v":15.46},{"s":"恒生地產分類指數","m":10.552,"v":15.64},{"s":"恒生地產分類指數","m":10.599,"v":15.85},{"s":"恒生地產分類指數","m":10.651,"v":15.81},{"s":"恒生地產分類指數","m":10.695,"v":15.78},{"s":"恒生地產分類指數","m":10.738,"v":15.71},{"s":"恒生地產分類指數","m":10.781,"v":16.24},{"s":"恒生地產分類指數","m":10.826,"v":16.38},{"s":"恒生地產分類指數","m":10.865,"v":16.40},{"s":"恒生地產分類指數","m":10.917,"v":16.43},{"s":"恒生地產分類指數","m":10.960,"v":16.19},{"s":"恒生地產分類指數","m":11.008,"v":15.94},{"s":"恒生地產分類指數","m":11.060,"v":16.16},{"s":"恒生地產分類指數","m":11.103,"v":16.21},{"s":"恒生地產分類指數","m":11.155,"v":16.21},{"s":"恒生地產分類指數","m":11.198,"v":16.07},{"s":"恒生地產分類指數","m":11.242,"v":16.15},{"s":"恒生地產分類指數","m":11.285,"v":15.91},{"s":"恒生地產分類指數","m":11.333,"v":15.96},{"s":"恒生地產分類指數","m":11.389,"v":16.09},{"s":"恒生地產分類指數","m":11.441,"v":16.07},{"s":"恒生地產分類指數","m":11.484,"v":16.09},{"s":"恒生地產分類指數","m":11.529,"v":16.19},{"s":"恒生地產分類指數","m":11.568,"v":16.27},{"s":"恒生地產分類指數","m":11.612,"v":16.24},{"s":"恒生地產分類指數","m":11.656,"v":16.38},{"s":"恒生地產分類指數","m":11.698,"v":16.38},{"s":"恒生地產分類指數","m":11.742,"v":16.46},{"s":"恒生地產分類指數","m":11.786,"v":16.38},{"s":"恒生地產分類指數","m":11.828,"v":16.46},{"s":"恒生地產分類指數","m":11.872,"v":16.43},{"s":"恒生地產分類指數","m":11.908,"v":16.43}
  ]},
  "mark": {"type": "line", "clip": true, "strokeJoin": "round"},
  "encoding": {
    "x": {
      "field": "m", "type": "quantitative",
      "scale": {"domain": [0, 11.914], "nice": false, "zero": false},
      "axis": {
        "title": null, "values": [0,1,2,3,4,5,6,7,8,9,10,11],
        "labelExpr": "['2005年', (datum.value + 1) + '月']",
        "labelOffset": 38.4, "labelOverlap": false, "labelFlush": false, "labelBound": false,
        "labelFont": "Lato, 'Noto Sans CJK TC'", "labelFontSize": 15, "labelColor": "#333333",
        "labelLineHeight": 17, "labelPadding": 8, "labelBaseline": "top",
        "ticks": false, "grid": true, "gridColor": "#b3b09c", "gridWidth": 1.5,
        "domain": true, "domainColor": "#a09d88", "domainWidth": 3
      }
    },
    "y": {
      "field": "v", "type": "quantitative",
      "scale": {"domain": [14, 23.093], "nice": false, "zero": false},
      "axis": {
        "title": null, "values": [14,15,16,17,18,19,20,21,22], "format": ".2f",
        "labelFont": "Lato", "labelFontSize": 16, "labelColor": "#333333", "labelPadding": 8,
        "ticks": true, "tickSize": 5, "tickColor": "#a09d88", "tickWidth": 2,
        "grid": true, "gridColor": "#aeab98", "gridDash": [8, 6], "gridWidth": 1.5,
        "domain": true, "domainColor": "#a09d88", "domainWidth": 3
      }
    },
    "color": {
      "field": "s", "type": "nominal",
      "scale": {"domain": ["嘉里建設有限公司股價", "恒生指數", "恒生地產分類指數"], "range": ["#ecc51e", "#3d67ad", "#c4002f"]},
      "legend": {
        "encode": {"symbols": {"update": {"fill": {"scale": "color", "field": "value"}, "strokeWidth": {"value": 0}}}}
      }
    },
    "strokeWidth": {
      "field": "s", "type": "nominal",
      "scale": {"domain": ["嘉里建設有限公司股價", "恒生指數", "恒生地產分類指數"], "range": [2, 2.2, 2.8]},
      "legend": null
    }
  }
}
